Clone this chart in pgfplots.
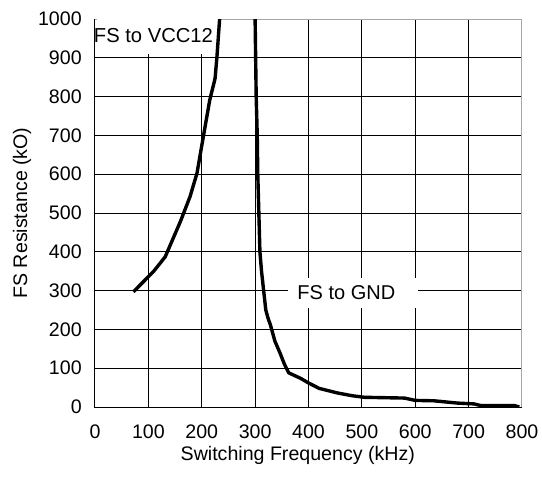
\documentclass[border=0pt]{standalone}
\usepackage{fontspec}
\setmainfont{Liberation Sans}
\usepackage{pgfplots}
\pgfplotsset{compat=1.18}
\begin{document}
\fontsize{9.8}{11.8}\selectfont
\begin{tikzpicture}
\useasboundingbox (-47.5pt,-35.5pt) rectangle (223.5pt,203.5pt);
\begin{axis}[
  at={(0,0)}, anchor=south west,
  scale only axis, width=213.5pt, height=194pt,
  xmin=0, xmax=800, ymin=0, ymax=1000,
  xtick={0,100,...,800}, ytick={0,100,...,1000},
  grid=major, major grid style={black, line width=0.5pt},
  major tick length=0pt,
  axis line style={black, line width=0.5pt},
  /pgf/number format/assume math mode=true,
  /pgf/number format/1000 sep={},
  tick label style={font=\fontsize{9.8}{11.8}\selectfont},
  label style={font=\fontsize{9.8}{11.8}\selectfont},
  xticklabel style={yshift=-5.5pt},
  yticklabel style={xshift=-3.2pt},
  xlabel={Switching Frequency (kHz)},
  ylabel={FS Resistance (kO)},
  xlabel style={at={(axis description cs:0.475,-0.124)}, anchor=center},
  ylabel style={at={(axis description cs:-0.171,0.5)}, anchor=center},
]
\draw[gray!70, line width=1pt] (rel axis cs:0,1) -- (rel axis cs:1,1) -- (rel axis cs:1,0);
\node[fill=white, inner sep=0pt, minimum width=61pt, minimum height=19.5pt, anchor=north west] at ([xshift=0.6pt,yshift=2pt]axis cs:0,1000) {};
\node[font=\fontsize{10.1}{12}\selectfont, inner sep=0pt] at (axis cs:109.5,957) {FS to VCC12};
\node[fill=white, inner sep=0pt, minimum width=65pt, minimum height=15pt] at (axis cs:484,294) {};
\node[font=\fontsize{10}{12}\selectfont, inner sep=0pt] at (axis cs:471,294) {FS to GND};
\addplot[black, line width=1.7pt, line join=round] coordinates {
(72,297) (109.5,349) (131.5,387) (160,478) (178,542) (191,602) (203,697) (215,791) (225,847) (228.5,903) (233.5,1000)
};
\addplot[black, line width=1.7pt, line join=round] coordinates {
(300,1000) (301,900) (302,800) (304,700) (305,600) (307,500) (309,400) (312,350) (316,300) (320,250) (324,230) (329,210) (337,170) (347,138) (355,110) (363,88) (385,74) (400,62) (420,48) (455,36) (482,29) (505,25) (580,23) (600,17) (635,16) (680,10) (710,8) (722,4) (785,4) (795,0)
};
\end{axis}
\end{tikzpicture}
\end{document}
